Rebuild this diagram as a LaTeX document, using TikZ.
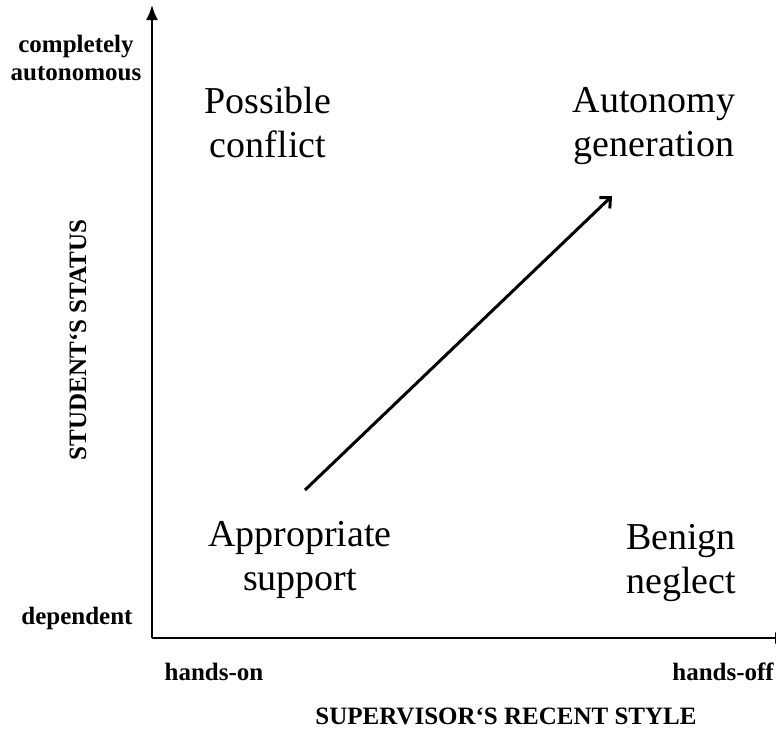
\documentclass[tikz,border=0pt]{standalone}
\usepackage{fontspec}
\setmainfont{Liberation Serif}
\usetikzlibrary{positioning,arrows.meta}
\tikzset{
  quad/.style={align=center, inner sep=0pt, font=\fontsize{38}{44}\selectfont},
  axislabel/.style={align=center, inner sep=0pt, font=\bfseries\fontsize{25}{28}\selectfont},
  axis/.style={-{Latex[length=15pt,width=12pt]}, line width=2pt},
  trend/.style={-{Straight Barb[length=8pt,width=15pt,line width=3pt]}, line width=3pt}
}

\begin{document}
\begin{tikzpicture}[x=1pt,y=-1pt]
    \useasboundingbox (0,0) rectangle (776,729);
    \coordinate (origin) at (152,638);
    \coordinate (ytop) at (152,5);
    \coordinate (xend) at (790,638);
    \coordinate (start) at (305,490);
    \coordinate (goal) at (612,196);
    \draw[axis] (origin) -- (ytop);
    \draw[axis] (origin) -- (xend);
    \node[quad] (conflict) at (268,122) {Possible\\conflict};
    \node[quad] (autonomy) at (654,126) {Autonomy\\generation};
    \node[quad] (support) at (300,560) {Appropriate\\support};
    \node[quad] (neglect) at (681,563) {Benign\\neglect};
    \draw[trend] (start) -- (goal);
    \node[axislabel] (high) at (76,58) {completely\\autonomous};
    \node[axislabel, anchor=base] (low) at (77,624) {dependent};
    \node[axislabel, anchor=base] (handson) at (214,680) {hands-on};
    \node[axislabel, anchor=base east] (handsoff) at (774,680) {hands-off};
    \node[axislabel, anchor=base] (xtitle) at (506,724) {SUPERVISOR‘S RECENT STYLE};
    \node[axislabel, rotate=90] (ytitle) at (78,340) {STUDENT‘S STATUS};
  \end{tikzpicture}
\end{document}
